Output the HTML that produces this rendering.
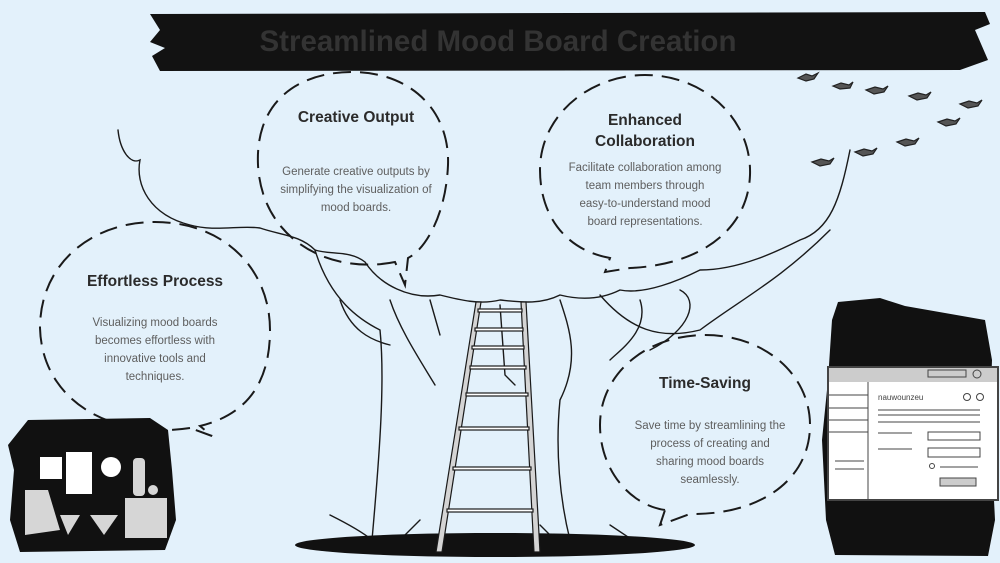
<!DOCTYPE html>
<html><head><meta charset="utf-8"><style>
html,body{margin:0;padding:0;width:1000px;height:563px;overflow:hidden;background:#e3f1fb}
svg{display:block}
.t{font-family:"Liberation Sans",sans-serif;font-weight:bold;fill:#2b2b2b;font-size:15.5px;text-anchor:middle}
.b{font-family:"Liberation Sans",sans-serif;fill:#5e5e5e;font-size:11.5px;text-anchor:middle}
.d{fill:none;stroke:#1a1a1a;stroke-width:2;stroke-dasharray:18 9}
.l{fill:none;stroke:#1a1a1a;stroke-width:1.4;stroke-linecap:round}
</style></head><body>
<svg width="1000" height="563" viewBox="0 0 1000 563">
<rect width="1000" height="563" fill="#e3f1fb"/>
<path d="M150,14 L985,12 L990,24 L975,30 L988,60 L960,70 L160,71 L152,56 L165,48 L150,42 L160,30 Z" fill="#121212"/>
<text x="498" y="51" font-family="Liberation Sans,sans-serif" font-weight="bold" font-size="29.5" fill="#333" text-anchor="middle">Streamlined Mood Board Creation</text>
<path class="l" d="M118,130 C120,150 130,165 140,160 C135,185 150,215 190,225 C215,232 240,225 260,228 C280,235 300,235 315,250 C330,255 350,250 365,262 C380,285 410,300 440,295 C460,300 480,305 500,300 C520,302 540,305 560,295 C580,300 600,300 620,290 C645,295 680,280 700,270 C740,270 780,250 800,240 C830,230 840,200 850,150"/>
<path class="l" d="M315,250 C330,300 360,320 380,330 C385,380 380,450 372,540"/>
<path class="l" d="M340,300 C350,330 370,340 390,345"/>
<path class="l" d="M390,300 C400,330 420,360 435,385"/>
<path class="l" d="M430,300 L440,335"/>
<path class="l" d="M560,300 C570,330 580,360 560,400 C555,450 560,500 570,540"/>
<path class="l" d="M600,295 C630,330 660,340 700,330 C740,300 780,280 830,230"/>
<path class="l" d="M640,300 C650,330 620,350 610,360"/>
<path class="l" d="M680,290 C700,300 690,330 650,350"/>
<path class="l" d="M500,305 L505,375 L515,385"/>
<path class="l" d="M372,540 C360,530 340,520 330,515 M420,520 L395,545 M540,525 L560,545 M610,525 L640,545"/>
<ellipse cx="495" cy="545" rx="200" ry="12" fill="#111"/>
<g stroke="#1a1a1a" stroke-width="1.2">
<path d="M476,302 L481,302 L442,552 L436,552 Z" fill="#d4d4d4"/>
<path d="M521,302 L526,302 L540,552 L534,552 Z" fill="#d4d4d4"/>
<g fill="#fff">
<rect x="478" y="309" width="44" height="3"/><rect x="475" y="328" width="48" height="3"/>
<rect x="472" y="346" width="52" height="3"/><rect x="470" y="366" width="56" height="3"/>
<rect x="466" y="393" width="62" height="3"/><rect x="459" y="427" width="70" height="3"/>
<rect x="453" y="467" width="78" height="3"/><rect x="447" y="509" width="86" height="3"/>
</g></g>
<path class="d" d="M395,262 C330,275 262,240 258,165 C255,100 300,72 352,72 C410,72 450,110 448,165 C446,215 425,250 408,258 L405,285 Z"/>
<path class="d" d="M610,258 C565,250 540,215 540,170 C540,115 590,75 645,75 C705,75 752,120 750,175 C748,230 700,265 630,268 L605,272 Z"/>
<path class="d" d="M190,428 C110,440 42,400 40,328 C40,265 90,222 155,222 C225,222 270,270 270,330 C270,385 245,415 200,426 L212,436 Z"/>
<path class="d" d="M665,510 C630,505 600,470 600,425 C600,375 645,335 705,335 C765,335 810,375 810,425 C810,480 760,515 690,514 L660,525 Z"/>
<text class="t" x="356" y="122">Creative Output</text>
<text class="b" x="356" y="175">Generate creative outputs by</text>
<text class="b" x="356" y="193">simplifying the visualization of</text>
<text class="b" x="356" y="211">mood boards.</text>
<text class="t" x="645" y="125">Enhanced</text>
<text class="t" x="645" y="146">Collaboration</text>
<text class="b" x="645" y="171">Facilitate collaboration among</text>
<text class="b" x="645" y="189">team members through</text>
<text class="b" x="645" y="207">easy-to-understand mood</text>
<text class="b" x="645" y="225">board representations.</text>
<text class="t" x="155" y="286">Effortless Process</text>
<text class="b" x="155" y="326">Visualizing mood boards</text>
<text class="b" x="155" y="344">becomes effortless with</text>
<text class="b" x="155" y="362">innovative tools and</text>
<text class="b" x="155" y="380">techniques.</text>
<text class="t" x="705" y="388">Time-Saving</text>
<text class="b" x="710" y="429">Save time by streamlining the</text>
<text class="b" x="710" y="447">process of creating and</text>
<text class="b" x="710" y="465">sharing mood boards</text>
<text class="b" x="710" y="483">seamlessly.</text>
<g fill="#555" stroke="#222" stroke-width="1.2">
<path d="M798,78 l8,-4 l6,2 l6,-3 l-4,6 l-8,2 z"/><path d="M833,86 l8,-3 l8,2 l4,-3 l-3,6 l-10,1 z"/>
<path d="M866,90 l9,-3 l8,2 l5,-3 l-4,6 l-10,2 z"/><path d="M909,96 l9,-3 l8,2 l5,-3 l-4,6 l-10,2 z"/>
<path d="M960,104 l9,-3 l8,2 l5,-3 l-4,6 l-10,2 z"/><path d="M938,122 l9,-3 l8,2 l5,-3 l-4,6 l-10,2 z"/>
<path d="M897,142 l9,-3 l8,2 l5,-3 l-4,6 l-10,2 z"/><path d="M855,152 l9,-3 l8,2 l5,-3 l-4,6 l-10,2 z"/>
<path d="M812,162 l9,-3 l8,2 l5,-3 l-4,6 l-10,2 z"/>
</g>
<path d="M28,420 L150,418 L168,430 L172,470 L176,520 L165,550 L20,552 L10,520 L14,470 L8,445 Z" fill="#111"/>
<rect x="40" y="457" width="22" height="22" fill="#fff"/><rect x="66" y="452" width="26" height="42" fill="#fff"/>
<circle cx="111" cy="467" r="10" fill="#fff"/>
<g fill="#d6d6d6"><path d="M25,490 L48,490 L60,530 L25,535 Z"/><rect x="125" y="498" width="42" height="40"/>
<rect x="133" y="458" width="12" height="38" rx="4"/><path d="M60,515 L80,515 L68,535 Z"/><path d="M90,515 L118,515 L104,535 Z"/><circle cx="153" cy="490" r="5"/></g>
<path d="M838,302 L880,298 L905,306 L985,320 L992,360 L990,420 L995,520 L988,556 L835,555 L826,520 L822,440 L828,380 L832,320 Z" fill="#111"/>
<rect x="828" y="367" width="170" height="133" fill="#fff" stroke="#444" stroke-width="2"/>
<rect x="829" y="368" width="168" height="14" fill="#ccc"/>
<line x1="868" y1="382" x2="868" y2="499" stroke="#444"/>
<g stroke="#444" fill="none" stroke-width="1">
<rect x="928" y="370" width="38" height="7"/><circle cx="977" cy="374" r="4"/>
<line x1="829" y1="395" x2="868" y2="395"/><line x1="829" y1="408" x2="868" y2="408"/><line x1="829" y1="420" x2="868" y2="420"/><line x1="829" y1="432" x2="868" y2="432"/>
<line x1="878" y1="410" x2="980" y2="410"/><line x1="878" y1="415" x2="980" y2="415"/><line x1="878" y1="422" x2="980" y2="422"/>
<line x1="878" y1="433" x2="912" y2="433"/><line x1="878" y1="449" x2="912" y2="449"/>
<rect x="928" y="432" width="52" height="8"/><rect x="928" y="448" width="52" height="9"/>
<circle cx="967" cy="397" r="3.5"/><circle cx="980" cy="397" r="3.5"/>
<line x1="940" y1="467" x2="978" y2="467"/><circle cx="932" cy="466" r="2.5"/>
<line x1="835" y1="461" x2="864" y2="461"/><line x1="835" y1="469" x2="864" y2="469"/>
</g>
<rect x="940" y="478" width="36" height="8" fill="#ccc" stroke="#444"/>
<text x="878" y="400" font-family="Liberation Sans,sans-serif" font-size="8" fill="#444">nauwounzeu</text>
</svg>
</body></html>
